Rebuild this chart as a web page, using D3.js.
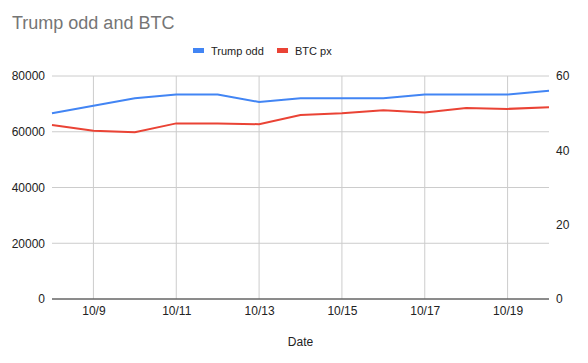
<!DOCTYPE html>
<html>
<head>
<meta charset="utf-8">
<script src="https://cdn.jsdelivr.net/npm/d3@7"></script>
<style>
  body { margin: 0; background: #fff; }
  text { font-family: Arial, "Liberation Sans", sans-serif; }
</style>
</head>
<body>
<div id="chart"></div>
<script>
// data
var dates = ["2024-10-08", "2024-10-09", "2024-10-10", "2024-10-11", "2024-10-12", "2024-10-13", "2024-10-14",
  "2024-10-15", "2024-10-16", "2024-10-17", "2024-10-18", "2024-10-19", "2024-10-20"];
var trumpOdd = [50, 52, 54, 55, 55, 53, 54, 54, 54, 55, 55, 55, 56];
var btcPx = [62400, 60400, 59800, 63000, 63000, 62700, 66000, 66600, 67700, 66900, 68500, 68200, 68800];
var leftTicks = [0, 20000, 40000, 60000, 80000];
var rightTicks = [0, 20, 40, 60];

var svgWidth = 588;
var svgHeight = 363;
var margin = { top: 76, right: 39, bottom: 64, left: 52 };
var width = svgWidth - margin.left - margin.right;
var height = svgHeight - margin.top - margin.bottom;

var parse = d3.timeParse("%Y-%m-%d");
var data = dates.map((d, i) => ({ date: parse(d), odd: trumpOdd[i], btc: btcPx[i] }));

var svg = d3.select("#chart").append("svg")
  .attr("width", svgWidth)
  .attr("height", svgHeight);

var chart = svg.append("g")
  .attr("transform", `translate(${margin.left}, ${margin.top})`);

var x = d3.scaleTime()
  .domain(d3.extent(data, d => d.date))
  .range([0, width]);
var yLeft = d3.scaleLinear().domain([0, 80000]).range([height, 0]);
var yRight = d3.scaleLinear().domain([0, 60]).range([height, 0]);

var xTicks = data.filter((d, i) => i % 2 === 1).map(d => d.date);

// grid
chart.append("g").selectAll("line").data(leftTicks).enter().append("line")
  .attr("x1", 0).attr("x2", width)
  .attr("y1", d => yLeft(d)).attr("y2", d => yLeft(d))
  .attr("stroke", "#cccccc");
chart.append("g").selectAll("line").data(xTicks).enter().append("line")
  .attr("x1", d => x(d)).attr("x2", d => x(d))
  .attr("y1", 0).attr("y2", height)
  .attr("stroke", "#cccccc");

// axes
var leftAxis = d3.axisLeft(yLeft).tickValues(leftTicks).tickSize(0).tickPadding(7).tickFormat(d3.format("d"));
var rightAxis = d3.axisRight(yRight).tickValues(rightTicks).tickSize(0).tickPadding(7).tickFormat(d3.format("d"));
var bottomAxis = d3.axisBottom(x).tickValues(xTicks).tickSize(0).tickPadding(7)
  .tickFormat(d3.timeFormat("%-m/%-d"));

function styleAxis(g) {
  g.select(".domain").remove();
  g.selectAll("text").attr("font-size", "12px").attr("fill", "#222");
}
chart.append("g").call(leftAxis).call(styleAxis);
chart.append("g").attr("transform", `translate(${width}, 0)`).call(rightAxis).call(styleAxis);
chart.append("g").attr("transform", `translate(0, ${height})`).call(bottomAxis).call(styleAxis);

chart.append("line")
  .attr("x1", 0).attr("x2", width)
  .attr("y1", height).attr("y2", height)
  .attr("stroke", "#333");

// lines
var btcLine = d3.line().x(d => x(d.date)).y(d => yLeft(d.btc));
var oddLine = d3.line().x(d => x(d.date)).y(d => yRight(d.odd));

chart.append("path").datum(data)
  .attr("d", btcLine).attr("fill", "none")
  .attr("stroke", "#ea4335").attr("stroke-width", 2);
chart.append("path").datum(data)
  .attr("d", oddLine).attr("fill", "none")
  .attr("stroke", "#4285f4").attr("stroke-width", 2);

// title
svg.append("text")
  .attr("x", 12).attr("y", 29)
  .attr("font-size", "18px").attr("fill", "#757575")
  .text("Trump odd and BTC");

// legend
var legend = [{ name: "Trump odd", color: "#4285f4", x: 193 }, { name: "BTC px", color: "#ea4335", x: 277 }];
var lg = svg.append("g").selectAll("g").data(legend).enter().append("g")
  .attr("transform", d => `translate(${d.x}, 51)`);
lg.append("rect").attr("x", 0).attr("y", -3).attr("width", 11).attr("height", 5).attr("fill", d => d.color);
lg.append("text").attr("x", 18).attr("y", 4)
  .attr("font-size", "11px").attr("fill", "#222")
  .text(d => d.name);

// axis title
svg.append("text")
  .attr("x", margin.left + width / 2).attr("y", 346)
  .attr("text-anchor", "middle")
  .attr("font-size", "12px").attr("fill", "#222")
  .text("Date");
</script>
</body>
</html>
